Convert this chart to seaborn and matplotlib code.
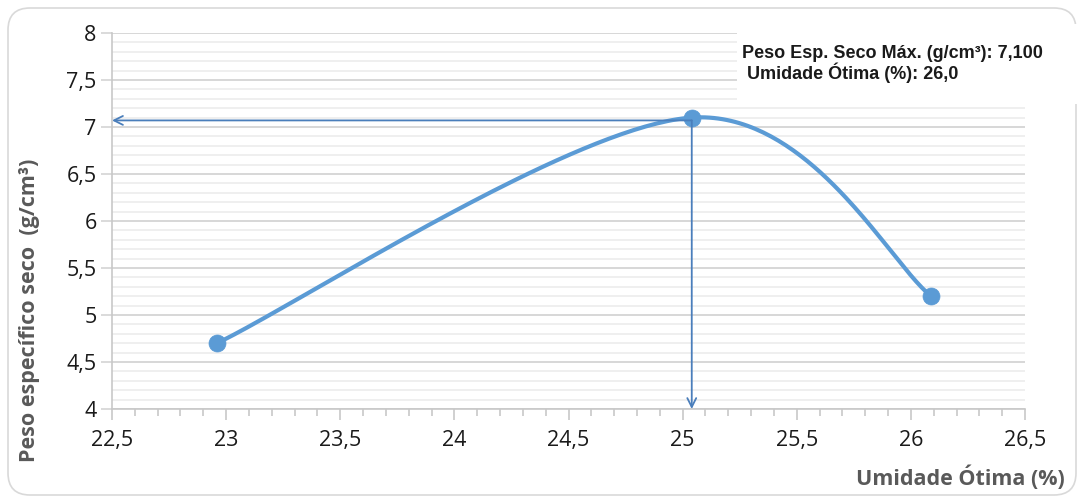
import numpy as np
import pandas as pd
import matplotlib
matplotlib.use('agg')
import matplotlib.pyplot as plt
import seaborn as sns
from matplotlib.patches import FancyBboxPatch, Rectangle
from matplotlib.ticker import MultipleLocator, FuncFormatter

# dados do ensaio de compactacao
umidade = [22.96, 25.04, 26.09]
peso_seco = [4.70, 7.10, 5.20]
umid_otima = 25.04
peso_max = 7.07
x_ticks = [22.5, 23, 23.5, 24, 24.5, 25, 25.5, 26, 26.5]
y_ticks = [4, 4.5, 5, 5.5, 6, 6.5, 7, 7.5, 8]
texto_info = "Peso Esp. Seco Máx. (g/cm³): 7,100\n Umidade Ótima (%): 26,0"

azul = '#5b9bd5'
azul_seta = '#4a7ebb'
cinza = '#595959'


def excel_smooth(ax, xs, ys, n=80):
    # curva suavizada tipo Excel (bezier), calculada no espaco da tela
    pts = ax.transData.transform(np.column_stack([xs, ys]))
    P = np.vstack([pts[0], pts, pts[-1]])
    segs = []
    t = np.linspace(0, 1, n)[:, None]
    for i in range(1, len(P) - 2):
        p0, p1, p2, p3 = P[i - 1], P[i], P[i + 1], P[i + 2]
        c1 = p1 + (p2 - p0) / 6.0
        c2 = p2 - (p3 - p1) / 6.0
        segs.append((1 - t)**3 * p1 + 3 * (1 - t)**2 * t * c1 + 3 * (1 - t) * t**2 * c2 + t**3 * p2)
    curve = ax.transData.inverted().transform(np.vstack(segs))
    return curve[:, 0], curve[:, 1]


def fmt(v, pos):
    return ('%g' % v).replace('.', ',')


sns.set_style('white')
plt.rcParams['font.family'] = ['Open Sans', 'DejaVu Sans']

fig = plt.figure(figsize=(10.77, 4.97), dpi=100)
fig.patches.append(FancyBboxPatch((0.08, 0.02), 10.68, 4.87,
                                  boxstyle='round,pad=0,rounding_size=0.22',
                                  transform=fig.dpi_scale_trans,
                                  fc='none', ec='#d9d9d9', lw=1.2, zorder=-1))
ax = fig.add_axes([112 / 1077, 1 - 409 / 497, (1025 - 112) / 1077, (409 - 33) / 497])
ax.set_facecolor('none')
ax.set_xlim(22.5, 26.5)
ax.set_ylim(4, 8)

ax.xaxis.set_major_locator(MultipleLocator(0.5))
ax.xaxis.set_minor_locator(MultipleLocator(0.1))
ax.yaxis.set_major_locator(MultipleLocator(0.5))
ax.yaxis.set_minor_locator(MultipleLocator(0.1))
ax.set_xticks(x_ticks)
ax.set_yticks(y_ticks)
ax.xaxis.set_major_formatter(FuncFormatter(fmt))
ax.yaxis.set_major_formatter(FuncFormatter(fmt))

ax.set_axisbelow(True)
ax.grid(False, axis='x', which='both')
ax.grid(True, axis='y', which='major', color='#d4d4d4', lw=1.3)
ax.grid(True, axis='y', which='minor', color='#ebebeb', lw=1.1)
for s in ['top', 'right']:
    ax.spines[s].set_visible(False)
ax.spines['left'].set_color('#c8c8c8')
ax.spines['bottom'].set_color('#c8c8c8')
ax.spines['left'].set_linewidth(1.2)
ax.spines['bottom'].set_linewidth(1.2)

ax.tick_params(axis='x', which='major', direction='out', length=8, width=1.2, color='#c8c8c8',
               labelsize=15.5, labelcolor='#1a1a1a', pad=7, bottom=True)
ax.tick_params(axis='x', which='minor', direction='out', length=5, width=1.2, color='#c8c8c8', bottom=True)
ax.tick_params(axis='y', which='major', direction='out', length=8, width=1.2, color='#d4d4d4',
               labelsize=15.5, labelcolor='#1a1a1a', pad=3, left=True)
ax.tick_params(axis='y', which='minor', length=0)

# fundo branco da caixa de texto
ax.add_patch(Rectangle((25.24, 7.25), 1.5, 0.85, fc='white', ec='none', zorder=1.5, clip_on=False))

cx, cy = excel_smooth(ax, umidade, peso_seco)
df_curva = pd.DataFrame({'x': cx, 'y': cy})
df_pts = pd.DataFrame({'umidade': umidade, 'peso': peso_seco})
sns.lineplot(data=df_curva, x='x', y='y', sort=False, estimator=None, color=azul, lw=3, ax=ax, zorder=3)
sns.scatterplot(data=df_pts, x='umidade', y='peso', color=azul, s=150, edgecolor=azul, linewidth=0.5, ax=ax, zorder=4)

ax.annotate('', xy=(22.5, peso_max), xytext=(umid_otima, peso_max),
            arrowprops=dict(arrowstyle='->', color=azul_seta, lw=1.3, shrinkA=0, shrinkB=0,
                            mutation_scale=16), zorder=5)
ax.annotate('', xy=(umid_otima, 4), xytext=(umid_otima, peso_max),
            arrowprops=dict(arrowstyle='->', color=azul_seta, lw=1.3, shrinkA=0, shrinkB=0,
                            mutation_scale=16), zorder=5)

ax.set_xlabel('')
ax.set_ylabel('')
fig.text(742 / 1077, 1 - 45 / 497, texto_info, ha='left', va='top', fontsize=13,
         fontweight='bold', family=['Liberation Sans', 'DejaVu Sans'], color='#1a1a1a', linespacing=1.05)
fig.text(30 / 1077, 1 - 310 / 497, 'Peso específico seco  (g/cm³)', rotation=90, ha='center', va='center',
         fontsize=15.5, fontweight='bold', color=cinza)
fig.text(1065 / 1077, 1 - 478 / 497, 'Umidade Ótima (%)', ha='right', va='center',
         fontsize=15.5, fontweight='bold', color=cinza)

fig.savefig('out.png', dpi=100)
